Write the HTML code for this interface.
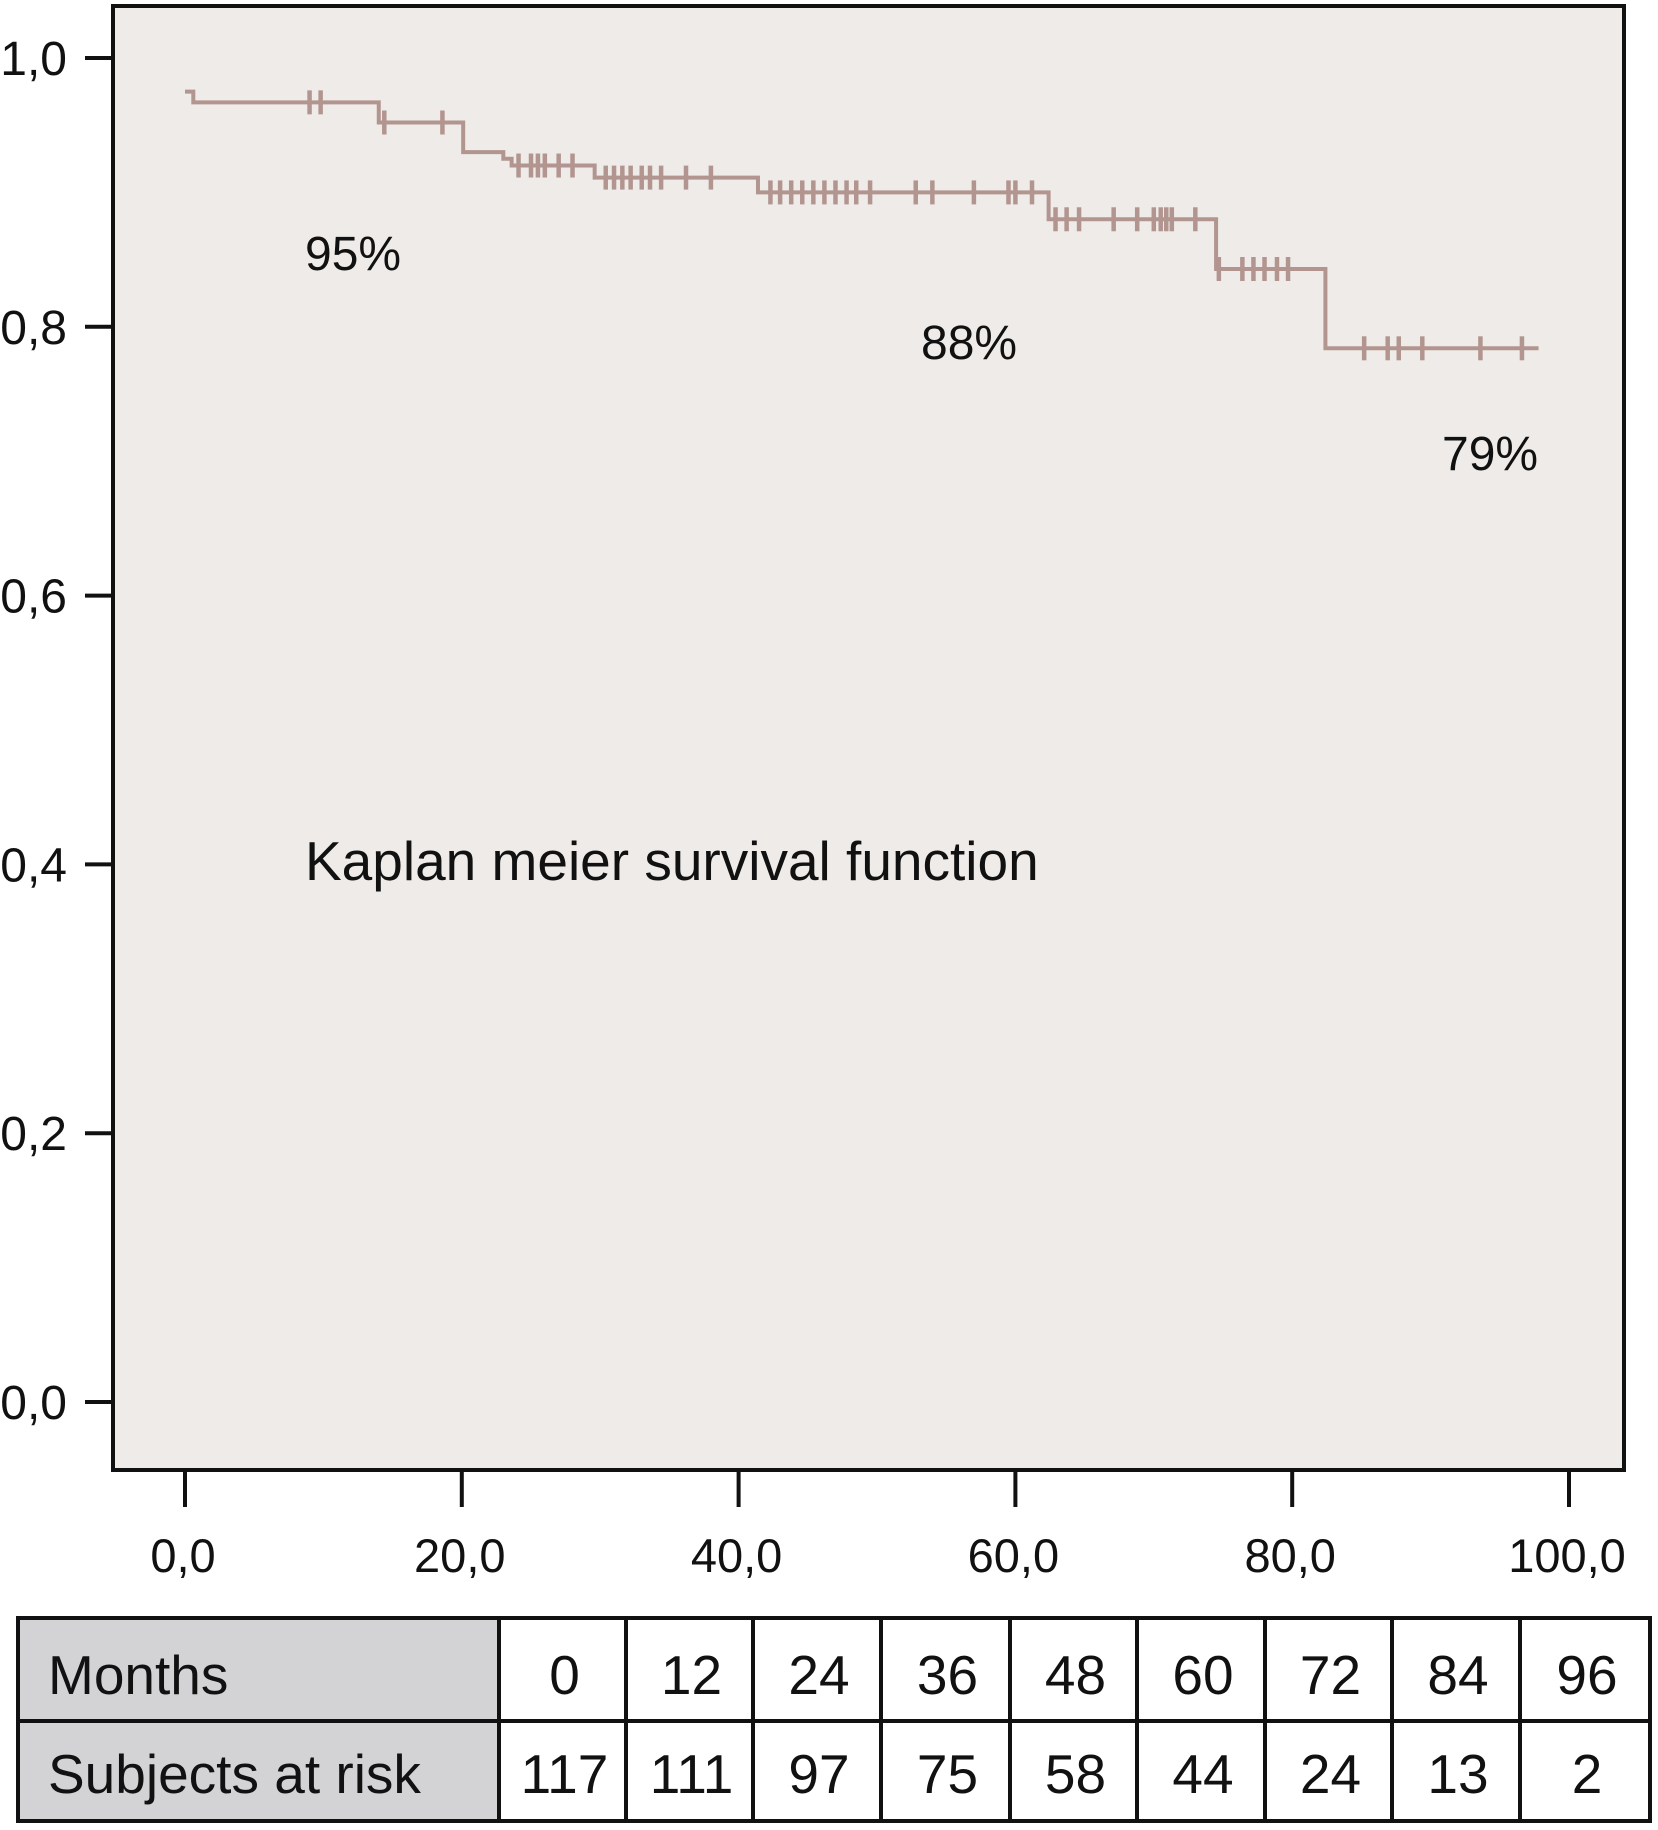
<!DOCTYPE html>
<html><head><meta charset="utf-8"><style>
body{margin:0;background:#fff;}
svg{display:block;font-family:"Liberation Sans",Arial,sans-serif;}
</style></head><body>
<svg id="chart" width="1658" height="1830" viewBox="0 0 1658 1830" xmlns="http://www.w3.org/2000/svg">
<rect x="113" y="6" width="1511" height="1464" fill="#eeebe8" stroke="#111" stroke-width="4"/>
<g id="axes"></g>
<g id="curve"></g>
<text x="305" y="270" font-size="48" fill="#111">95%</text>
<text x="921" y="359" font-size="48" fill="#111">88%</text>
<text x="1442" y="470" font-size="48" fill="#111">79%</text>
<text x="305" y="880" font-size="55" fill="#111">Kaplan meier survival function</text>
<g id="table"></g>
</svg>
<script>
const yTicks=[0,0.2,0.4,0.6,0.8,1.0];
const yTickLabels=["0,0","0,2","0,4","0,6","0,8","1,0"];
const xTicks=[0,20,40,60,80,100];
const xTickLabels=["0,0","20,0","40,0","60,0","80,0","100,0"];
const stepTimes=[0,0.6,14.0,20.1,23.0,23.6,29.6,41.4,62.4,74.5,82.4];
const stepSurv=[0.975,0.967,0.952,0.930,0.925,0.920,0.911,0.900,0.880,0.843,0.784];
const endTime=97.8;
const censorTimes=[9.0,9.8,14.4,18.6,24.1,25,25.5,26,27,28,30.4,31,31.6,32.2,33,33.6,34.4,36.2,38,42.3,43,43.8,44.6,45.4,46.2,47,47.8,48.5,49.5,52.8,54,57,59.5,60,61.2,62.9,63.7,64.6,67.1,68.8,70,70.5,70.9,71.3,73,74.7,76.4,77.2,78,78.9,79.7,85.2,86.9,87.7,89.4,93.6,96.6];
const months=["0","12","24","36","48","60","72","84","96"];
const atRisk=["117","111","97","75","58","44","24","13","2"];

const NS="http://www.w3.org/2000/svg";
const X=t=>185+t*13.84;
const Y=s=>1402-s*1344;
function mk(tag,attrs,parent,text){const e=document.createElementNS(NS,tag);for(const k in attrs)e.setAttribute(k,attrs[k]);if(text!==undefined)e.textContent=text;parent.appendChild(e);return e;}
const axes=document.getElementById('axes');
yTicks.forEach((v,i)=>{
  const l=mk('line',{x1:85,x2:113,y1:Y(v),y2:Y(v),stroke:'#111','stroke-width':4},axes);
  
  
  const t=mk('text',{x:67,y:Y(v)+17,'font-size':48,'text-anchor':'end',fill:'#111'},axes,yTickLabels[i]);
  
  
});
xTicks.forEach((v,i)=>{
  const l=mk('line',{x1:X(v),x2:X(v),y1:1470,y2:1507,stroke:'#111','stroke-width':4},axes);
  
  
  const t=mk('text',{x:X(v)-2,y:1572,'font-size':47,'text-anchor':'middle',fill:'#111'},axes,xTickLabels[i]);
  
  
});
const curve=document.getElementById('curve');
const col='#b39590';
let d='M'+X(stepTimes[0])+' '+Y(stepSurv[0]);
for(let i=1;i<stepTimes.length;i++){d+=' H'+X(stepTimes[i])+' V'+Y(stepSurv[i]);}
d+=' H'+X(endTime);
const p=mk('path',{d:d,fill:'none',stroke:col,'stroke-width':4},curve);


function survAt(t){let s=stepSurv[0];for(let i=0;i<stepTimes.length;i++){if(stepTimes[i]<=t)s=stepSurv[i];}return s;}
censorTimes.forEach(t=>{
  const y=Y(survAt(t));
  const c=mk('line',{x1:X(t),x2:X(t),y1:y-12,y2:y+12,stroke:col,'stroke-width':4.5},curve);
  
  
});
const tb=document.getElementById('table');
const bounds=[499,626,753,881,1010,1137,1265,1392,1520,1650];
const hdr=mk('rect',{x:18,y:1618,width:481,height:203,fill:'#d3d3d6'},tb);


const fr=mk('rect',{x:18,y:1618,width:1632,height:203,fill:'none',stroke:'#111','stroke-width':4},tb);


mk('line',{x1:18,x2:1650,y1:1721,y2:1721,stroke:'#111','stroke-width':4},tb);
bounds.slice(0,-1).forEach(b=>mk('line',{x1:b,x2:b,y1:1618,y2:1821,stroke:'#111','stroke-width':4},tb));
const h1=mk('text',{x:48,y:1694,'font-size':55,fill:'#111'},tb,'Months');


const h2=mk('text',{x:48,y:1793,'font-size':55,fill:'#111'},tb,'Subjects at risk');


months.forEach((m,i)=>{
  const cx=(bounds[i]+bounds[i+1])/2+2;
  const a=mk('text',{x:cx,y:1694,'font-size':55,'text-anchor':'middle',fill:'#111'},tb,m);
  
  
  const b=mk('text',{x:cx,y:1793,'font-size':55,'text-anchor':'middle',fill:'#111'},tb,atRisk[i]);
  
  
});
</script>
</body></html>
